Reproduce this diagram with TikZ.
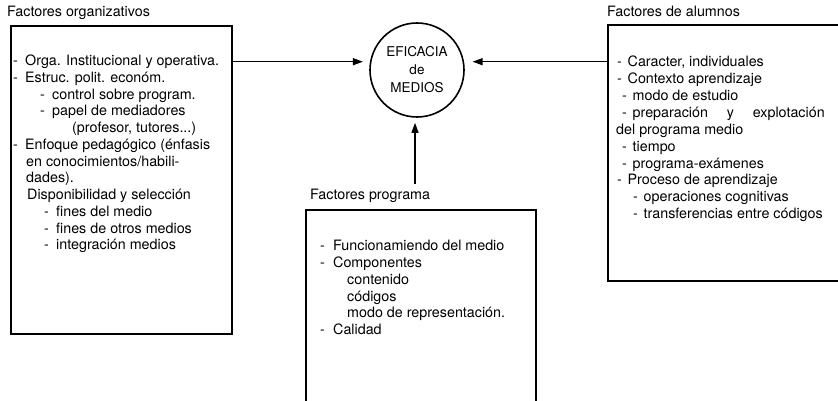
\documentclass[tikz,border=0pt]{standalone}
\usepackage{fontspec}
\setmainfont{TeX Gyre Heros}
\usetikzlibrary{arrows.meta}
% a hyphen set in a box of fixed width, so the item text after it lines up
\newcommand\dsh[1][12pt]{\makebox[#1][l]{-}}
\begin{document}
\begin{tikzpicture}[x=1pt,y=-1pt,
  frame/.style={draw, line width=1.8pt, inner sep=0pt, anchor=north west},
  txt/.style={anchor=base west, inner sep=0pt, font=\fontsize{14.3}{16.8}\selectfont},
  arr/.style={line width=1.3pt, -{Triangle[length=10pt,width=7pt]}}]
\useasboundingbox (0,0) rectangle (838,401);
\clip (0,0) rectangle (838,401);

% the three boxes
\node[frame, minimum width=221pt, minimum height=308pt] (org) at (10,25) {};
\node[frame, minimum width=240pt, minimum height=256pt] (alu) at (607,24) {};
\node[frame, minimum width=230pt, minimum height=200pt] (prg) at (305,209) {};

% the central circle
\node[circle, draw, line width=1.6pt, minimum size=94pt, inner sep=0pt,
      align=center, font=\fontsize{13.5}{18}\selectfont] (ef) at (417,70)
      {EFICACIA\\de\\MEDIOS};

% titles
\node[txt] (t1) at (7,17) {Factores organizativos};
\node[txt] (t2) at (607,17) {Factores de alumnos};
\node[txt] (t3) at (310,199) {Factores programa};

% arrows into the circle
\draw[arr, shorten >=7pt] (ef.170 -| org.east) -- (ef.170);
\draw[arr, shorten >=8.5pt] (ef.10 -| alu.west) -- (ef.10);
\coordinate (pa) at (415,184);
\draw[arr, shorten >=5pt] (pa) -- (pa |- ef.south);

% organisational factors
\foreach \dx/\t [count=\i] in {
  13/{\dsh Orga. Institucional y operativa.},
  13/{\dsh Estruc. polit. económ.},
  40/{\dsh control sobre program.},
  40/{\dsh papel de mediadores},
  72/{(profesor, tutores...)},
  13/{\dsh Enfoque pedagógico (énfasis},
  26/{en conocimientos/habili-},
  26/{dades).},
  27/{Disponibilidad y selección},
  44/{\dsh fines del medio},
  44/{\dsh fines de otros medios},
  44/{\dsh integración medios}}
  \node[txt] (o\i) at (\dx,{65.7+16.73*(\i-1)}) {\t};

% learner factors
\foreach \dx/\t [count=\i] in {
  617/{\dsh[10.5pt]Caracter, individuales},
  617/{\dsh[10.5pt]Contexto aprendizaje},
  622/{\dsh[10.5pt]modo de estudio},
  622/{\dsh[10.5pt]\hbox to 192pt{preparación\hfill y\hfill explotación}},
  616/{del programa medio},
  622/{\dsh[10.5pt]tiempo},
  622/{\dsh[10.5pt]programa-exámenes},
  617/{\dsh[10.5pt]Proceso de aprendizaje},
  633/{\dsh[10.5pt]operaciones cognitivas},
  633/{\dsh[10.5pt]transferencias entre códigos}}
  \node[txt] (a\i) at (\dx,{66.7+16.9*(\i-1)}) {\t};

% programme factors
\foreach \dx/\t [count=\i] in {
  320/{\dsh[13pt]Funcionamiendo del medio},
  320/{\dsh[13pt]Componentes},
  347/{contenido},
  347/{códigos},
  347/{modo de representación.},
  320/{\dsh[13pt]Calidad}}
  \node[txt] (p\i) at (\dx,{250.7+16.8*(\i-1)}) {\t};
\end{tikzpicture}
\end{document}
